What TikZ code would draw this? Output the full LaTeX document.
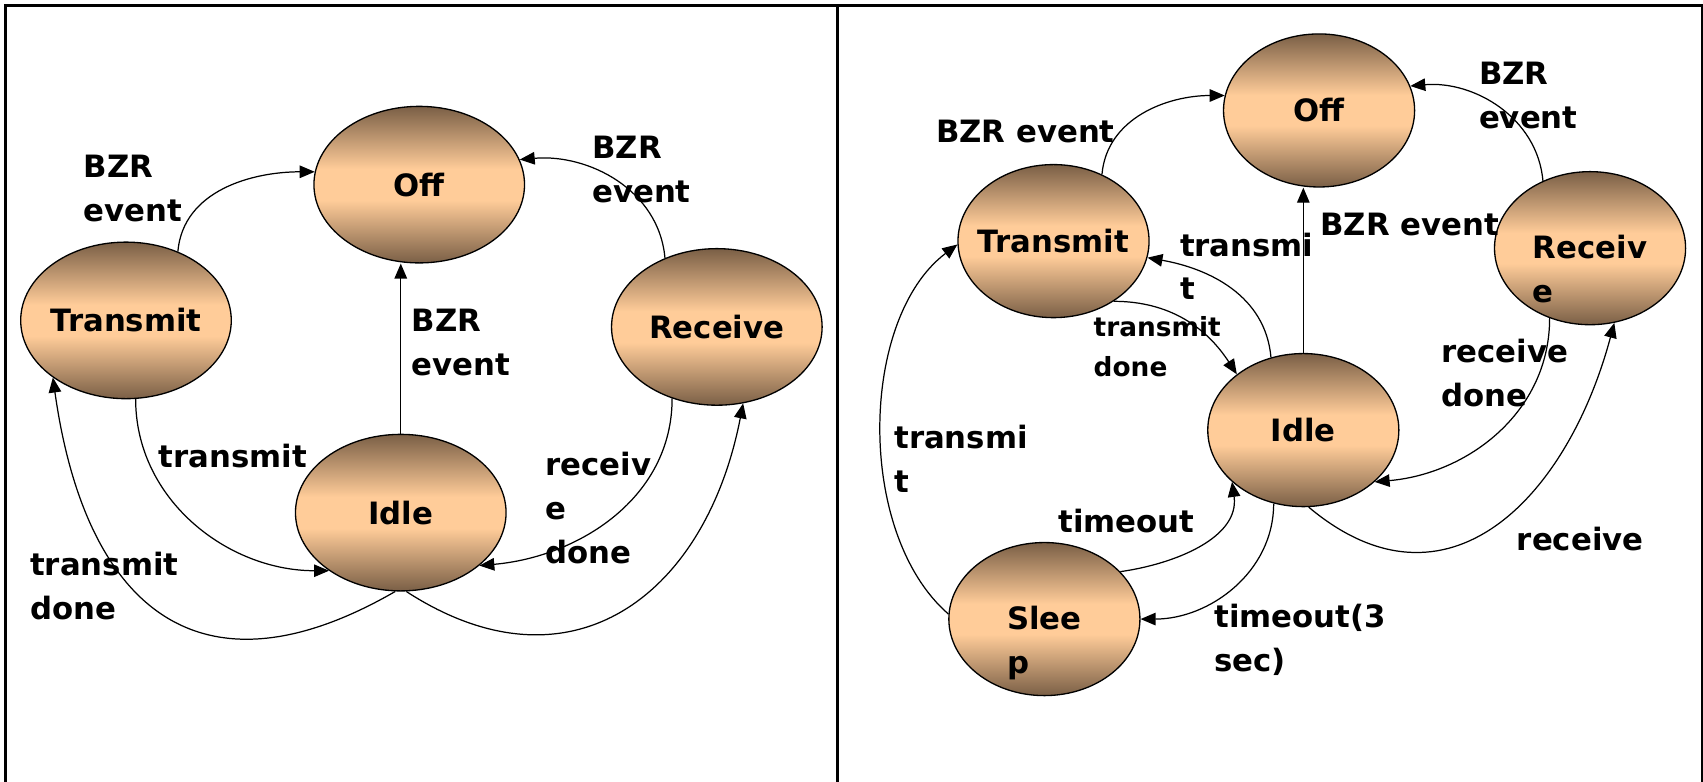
\documentclass[tikz,border=0pt]{standalone}
\usepackage{fontspec}
\setmainfont{DejaVu Sans}
\usepackage{tikz}
\usetikzlibrary{shapes.geometric,arrows.meta,positioning}

\definecolor{stdark}{RGB}{122,95,70}
\definecolor{stlight}{RGB}{255,204,153}
\pgfdeclareverticalshading{stfill}{100bp}{color(0bp)=(stdark); color(25bp)=(stdark); color(45bp)=(stlight); color(55bp)=(stlight); color(75bp)=(stdark); color(100bp)=(stdark)}

\newcommand{\twoline}[2]{\smash{\raisebox{-6pt}{\begin{tabular}[t]{@{}l@{}}#1\\#2\end{tabular}}}}

\begin{document}
\begin{tikzpicture}[
    x=0.02172cm, y=0.02172cm,
    st/.style={ellipse, draw=black, line width=0.75pt, shade, shading=stfill, inner xsep=-20pt, inner ysep=0pt, minimum width=4.21cm, minimum height=3.13cm, font=\fontsize{17.5}{25}\selectfont\bfseries},
    st2/.style={st, minimum width=3.82cm, minimum height=3.06cm},
    lbl/.style={anchor=west, align=left, inner sep=0pt, font=\fontsize{17.5}{25}\selectfont\bfseries},
    lbls/.style={lbl, font=\fontsize{15}{22.5}\selectfont\bfseries},
    arr/.style={-{Triangle[length=3mm,width=2.5mm]}, line width=0.7pt},
    frame/.style={line width=1.4pt, line join=miter}
]
    \useasboundingbox (0,0) rectangle (1568,-720);
    \draw [frame] (5,-720) -- (5,-5) -- (1567,-5) -- (1567,-720);
    \draw [frame] (771,-5) -- (771,-720);

    % four states
    \node [st] (off1) at (386,-170) {Off};
    \node [st] (tx1) at (116,-295) {Transmit};
    \node [st] (rx1) at (660,-301) {Receive};
    \node [st] (idle1) at (369,-472) {Idle};

    \node [lbl] (l1bzrtx) at (77,-174) {BZR\\event};
    \node [lbl] (l1bzrrx) at (545,-156.5) {BZR\\event};
    \node [lbl] (l1bzridle) at (379,-315.5) {BZR\\event};
    \node [lbl] (l1tx) at (146,-420) {transmit};
    \node [lbl] (l1rxdone) at (502,-468) {receiv\\e\\done};
    \node [lbl] (l1txdone) at (27.5,-539.5) {transmit\\done};

    \draw [arr] (tx1.53) to[out=85,in=180] (off1.173);
    \draw [arr] (rx1.127) to[out=95,in=5] (off1.14);
    \draw [arr] (idle1.north) -- (idle1.north |- off1.south);
    \draw [arr] (tx1.-83) to[out=-90,in=180] (idle1.219);
    \draw [arr] (rx1.-122) to[out=-90,in=5] (idle1.-34);
    \draw [arr] (idle1.-94) to[out=-150,in=-82,looseness=1.45] (tx1.-142);
    \draw [arr] (idle1.-86) to[out=-33,in=-101,looseness=1.3] (rx1.-71);

    % five states, with sleep
    \node [st2] (off2) at (1214.5,-101.7) {Off};
    \node [st2] (tx2) at (970,-222) {Transmit};
    \node [st2] (rx2) at (1464,-228.5) {\twoline{Receiv}{e}};
    \node [st2] (idle2) at (1200,-396) {Idle};
    \node [st2] (sleep2) at (961.6,-570) {\twoline{Slee}{p}};

    \node [lbl] (l2bzrtx) at (861.6,-120.8) {BZR event};
    \node [lbl] (l2bzrrx) at (1361.5,-87.7) {BZR\\event};
    \node [lbl] (l2bzridle) at (1215.3,-206.6) {BZR event};
    \node [lbl] (l2tx) at (1086.2,-245.2) {transmi\\t};
    \node [lbls] (l2txdone) at (1006.7,-319) {transmit\\done};
    \node [lbl] (l2rxdone) at (1327.1,-343.2) {receive\\done};
    \node [lbl] (l2rx) at (1396.3,-496) {receive};
    \node [lbl] (l2wake) at (974.4,-479.9) {timeout};
    \node [lbl] (l2sleep) at (1117.9,-588.9) {timeout(3\\sec)};
    \node [lbl] (l2sltx) at (823.1,-422.4) {transmi\\t};

    \draw [arr] (tx2.54) to[out=85,in=180] (off2.171);
    \draw [arr] (rx2.125) to[out=95,in=5] (off2.15);
    \draw [arr] (idle2.north) -- (idle2.north |- off2.south);
    \draw [arr] (idle2.114) to[out=95,in=-10] (tx2.-10);
    \draw [arr] (tx2.-45) to[out=0,in=123] (idle2.140);
    \draw [arr] (rx2.-120) to[out=-90,in=5] (idle2.-36);
    \draw [arr] (idle2.-86) to[out=-40,in=-105,looseness=1.3] (rx2.-72);
    \draw [arr] (sleep2.32) to[out=8,in=-82] (idle2.-144);
    \draw [arr] (idle2.-112) to[out=-90,in=0] (sleep2.east);
    \draw [arr] (sleep2.177) to[out=139,in=-143,looseness=0.85] (tx2.182);
\end{tikzpicture}
\end{document}
